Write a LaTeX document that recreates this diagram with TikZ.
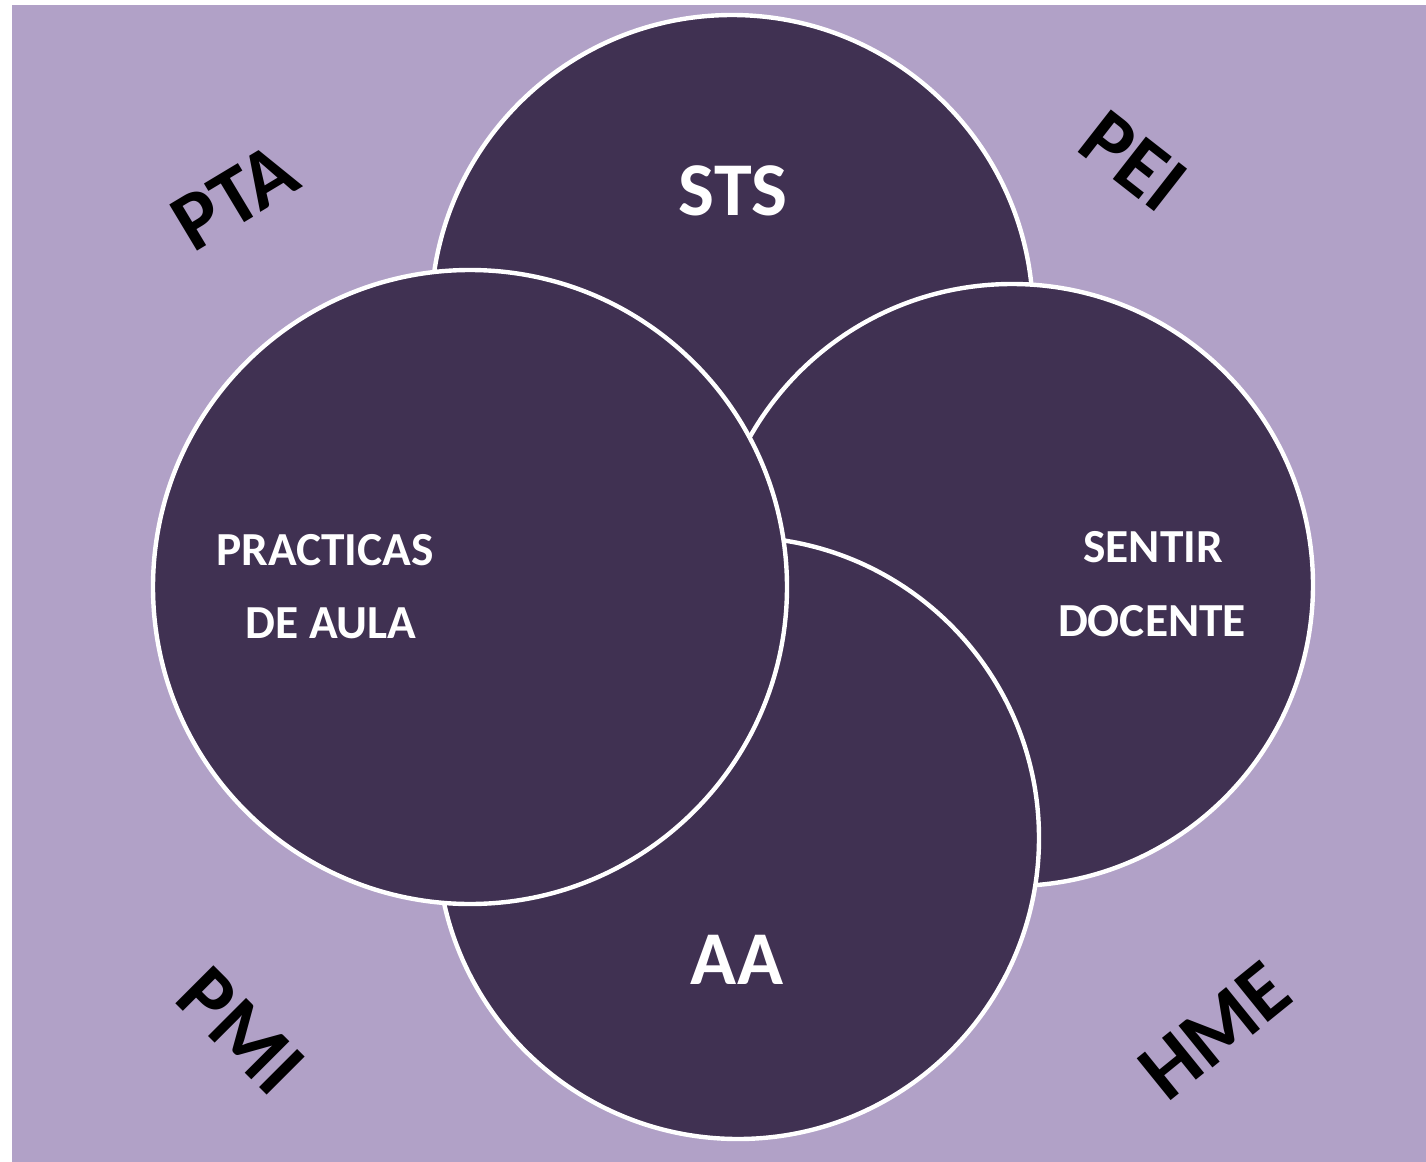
\documentclass[tikz,border=0pt]{standalone}
\usepackage{fontspec}
\setmainfont{Carlito}
\definecolor{bgpurple}{HTML}{B1A1C7}
\definecolor{darkpurple}{HTML}{403152}
\tikzset{
  bubble/.style={circle, fill=darkpurple, draw=white, line width=2.2pt, inner sep=0pt},
  inlabel/.style={text=white, font=\bfseries\fontsize{23.7}{28}\selectfont, anchor=base, inner sep=0pt},
  biglabel/.style={text=white, font=\bfseries\fontsize{38}{44}\selectfont, anchor=base, inner sep=0pt},
  cornerlabel/.style={text=black, font=\bfseries\fontsize{41.5}{48}\selectfont, inner sep=0pt}
}
\begin{document}
\begin{tikzpicture}[x=0.5pt, y=-0.5pt]
\useasboundingbox (0,0) rectangle (1426,1162);
\fill[bgpurple] (12,5) rectangle (1426,1162);
% circles (drawing order matters)
\node[bubble, minimum size=602pt*0.5] (sts) at (732,316) {};
\node[bubble, minimum size=602pt*0.5] (sentir) at (1012,585) {};
\node[bubble, minimum size=602pt*0.5] (aa) at (738,838) {};
\node[bubble, minimum size=634pt*0.5] (practicas) at (470,587) {};
% inner labels
\node[biglabel] (tsts) at (733,215) {STS};
\node[biglabel] (taa) at (737,984) {AA};
\node[inlabel] (tprac1) at (325,565) {PRACTICAS};
\node[inlabel] (tprac2) at (331,638) {DE AULA};
\node[inlabel] (tsent1) at (1153,562) {SENTIR};
\node[inlabel] (tsent2) at (1152,636) {DOCENTE};
% corner labels
\node[cornerlabel, rotate=31] (pta) at (235,197) {PTA};
\node[cornerlabel, rotate=-38] (pei) at (1133,161) {PEI};
\node[cornerlabel, rotate=-45] (pmi) at (241,1031) {PMI};
\node[cornerlabel, rotate=39] (hme) at (1215,1031) {HME};
\end{tikzpicture}
\end{document}
